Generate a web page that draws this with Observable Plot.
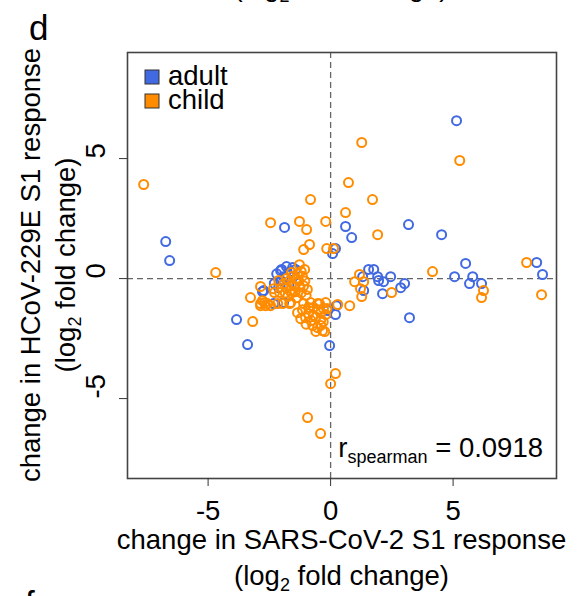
<!DOCTYPE html>
<html>
<head>
<meta charset="utf-8">
<script src="https://cdn.jsdelivr.net/npm/d3@7"></script>
<script src="https://cdn.jsdelivr.net/npm/@observablehq/plot@0.6"></script>
<style>
  html, body { margin: 0; padding: 0; background: #fff; }
  #chart { width: 582px; height: 596px; overflow: hidden; }
</style>
</head>
<body>
<div id="chart"></div>
<script>
// ---- data (log2 fold change) ----
const adultX = [-6.73,-6.57,-1.88,-3.84,-3.39,-2.78,-2.33,-2.0,-1.63,-1.43,-1.92,-2.12,-2.73,-1.92,-2.04,-1.55,-2.04,-2.2,-1.8,-1.5,-1.7,-2.3,-0.04,0.2,0.24,-0.12,0.08,0.2,0.61,0.86,3.18,4.53,5.14,5.51,8.41,8.65,1.55,1.76,1.92,1.96,2.16,2.45,2.12,2.86,3.02,3.22,5.06,5.8,5.67,6.16,1.35,1.31];
const adultY = [1.54,0.75,2.13,-1.71,-2.75,-0.54,-1.04,0.38,0.29,0.38,0.08,-0.38,-0.5,-1.0,-0.08,0.46,0.33,0.2,0.5,0.1,-0.3,-0.2,-2.79,-1.5,-1.13,-1.33,1.04,1.25,2.17,1.71,2.25,1.83,6.58,0.63,0.67,0.17,0.38,0.38,0.08,-0.08,-0.13,0.08,-0.63,-0.38,-0.21,-1.63,0.08,0.08,-0.21,-0.21,-0.5,0.08];
const childX = [-7.63,-4.69,-2.45,-1.27,-0.98,-0.82,-0.2,-0.86,-1.1,-0.16,0.12,1.27,5.27,0.73,1.71,0.61,1.92,4.16,8.0,1.18,0.98,1.35,1.22,1.27,2.49,6.24,6.16,8.61,0.29,0.78,-3.18,-3.27,-2.86,0.2,0.0,-0.94,-0.41,
  -2.86,-2.69,-2.57,-1.96,-1.67,-2.78,-2.65,-2.45,-2.86,-2.16,-1.63,-2.12,-2.33,-2.29,-2.08,-1.27,-1.06,
  -1.9,-1.8,-1.7,-1.6,-1.5,-1.4,-1.3,-1.2,-1.1,-1.0,-1.75,-1.55,-1.45,-1.25,-1.65,-1.85,-1.15,-1.05,-0.95,-1.35,-1.6,-1.4,-1.2,-1.8,
  -1.35,-1.22,-1.02,-0.73,-0.53,-0.33,-0.4,-0.24,-0.69,-0.41,-0.29,-0.2,-0.82,-0.53,-1.1,-0.9,-0.7,-0.5,-0.6,-0.4,-0.2,-0.9,-1.0,-0.8,-0.3,-0.6,-1.15,-0.45,-0.15];
const childY = [3.92,0.25,2.33,2.38,2.04,3.29,2.38,1.42,1.21,1.25,1.25,5.67,4.92,4.0,3.29,2.75,1.83,0.29,0.67,0.17,-0.13,-0.13,-0.42,-0.75,-0.58,-0.5,-0.79,-0.67,-1.08,-1.13,-1.79,-0.79,-0.33,-3.96,-4.38,-5.79,-6.46,
  -1.04,-1.0,-1.04,-1.04,-1.04,-0.92,-1.13,-1.13,-1.13,-1.04,-1.0,-0.08,-0.42,-0.58,-0.58,0.58,0.38,
  -0.2,-0.4,-0.1,-0.6,-0.3,-0.8,-0.1,-0.6,-0.3,-0.7,-0.75,0.1,-0.55,-0.35,-0.5,-0.6,0.1,-0.1,-0.45,0.2,0.25,0.0,0.3,0.0,
  -1.42,-1.67,-1.63,-1.96,-2.04,-2.17,-1.95,-2.21,-1.54,-1.42,-1.25,-1.0,-1.0,-1.04,-1.04,-1.2,-1.2,-1.3,-1.6,-1.7,-1.5,-1.45,-1.9,-1.75,-1.8,-2.2,-1.3,-1.05,-1.25];
const xTicks = [-5, 0, 5];
const yTicks = [-5, 0, 5];
const groups = ["adult", "child"];
const groupColors = ["#4169E1", "#FF8C00"];

const adults = adultX.map((x, i) => ({x, y: adultY[i]}));
const children = childX.map((x, i) => ({x, y: childY[i]}));

const FONT = "'Liberation Sans', Arial, Helvetica, sans-serif";
const FS = 27.5;

const plot = Plot.plot({
  width: 582,
  height: 596,
  marginLeft: 127,
  marginRight: 26,
  marginTop: 52,
  marginBottom: 118,
  x: {domain: [-8.29, 9.22]},
  y: {domain: [-8.33, 9.42]},
  style: {fontFamily: FONT, fontSize: FS + "px", background: "#fff", color: "#000", overflow: "visible"},
  marks: [
    Plot.ruleX([0], {stroke: "#666", strokeDasharray: "6,4", strokeWidth: 1.3}),
    Plot.ruleY([0], {stroke: "#666", strokeDasharray: "6,4", strokeWidth: 1.3}),
    Plot.dot(adults, {x: "x", y: "y", r: 4.5, stroke: groupColors[0], strokeWidth: 2, fill: "none"}),
    Plot.dot(children, {x: "x", y: "y", r: 4.5, stroke: groupColors[1], strokeWidth: 2, fill: "none"}),
    Plot.frame({stroke: "#444", strokeWidth: 1.6}),
    Plot.axisX({ticks: xTicks, tickSize: 8, tickPadding: 14, tickFormat: d => String(d), label: null, fontSize: FS, stroke: "#333"}),
    Plot.axisY({ticks: yTicks, tickSize: 8, tickFormat: () => "", label: null, stroke: "#333"}),
    Plot.text(yTicks, {y: d => d, text: d => String(d), frameAnchor: "left", dx: -31, rotate: -90, fontSize: FS, fill: "#000"})
  ]
});

document.getElementById("chart").appendChild(plot);

const svg = d3.select(plot);
function addText(x, y, parts, opts = {}) {
  const t = svg.append("text")
    .attr("x", x).attr("y", y)
    .attr("font-family", FONT)
    .attr("font-size", opts.size || FS)
    .attr("text-anchor", opts.anchor || "middle")
    .attr("fill", "#000");
  if (opts.rotate) t.attr("transform", `rotate(${opts.rotate},${x},${y})`);
  parts.forEach(p => {
    const ts = t.append("tspan").text(p.t);
    if (p.size) ts.attr("font-size", p.size);
    if (p.dy) ts.attr("dy", p.dy);
  });
  return t;
}

// panel letter and neighbouring-panel fragments
addText(29, 40, [{t: "d"}], {size: 35, anchor: "start"});
addText(25, 616, [{t: "f"}], {size: 35, anchor: "start"});
addText(341, -4, [{t: "(log"}, {t: "2", size: 18, dy: 6}, {t: " fold change)", dy: -6}]);

// x title
addText(341.5, 549, [{t: "change in SARS-CoV-2 S1 response"}]);
addText(341.5, 585, [{t: "(log"}, {t: "2", size: 18, dy: 6}, {t: " fold change)", dy: -6}]);

// y title
addText(40, 265, [{t: "change in HCoV-229E S1 response"}], {rotate: -90});
addText(75, 265, [{t: "(log"}, {t: "2", size: 18, dy: 6}, {t: " fold change)", dy: -6}], {rotate: -90});

// correlation annotation
addText(543, 457, [{t: "r"}, {t: "spearman", size: 18, dy: 6}, {t: " = 0.0918", dy: -6}], {anchor: "end"});

// legend
groups.forEach((g, i) => {
  svg.append("rect")
    .attr("x", 145).attr("y", 70 + i * 24)
    .attr("width", 14).attr("height", 14)
    .attr("fill", groupColors[i]).attr("stroke", "#333").attr("stroke-width", 1);
  addText(168, 85 + i * 24, [{t: g}], {anchor: "start"});
});
</script>
</body>
</html>
